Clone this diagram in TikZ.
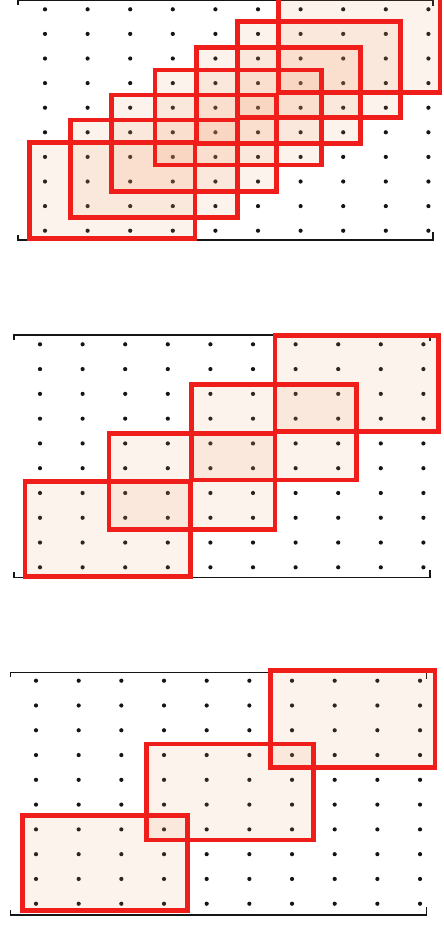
\documentclass[tikz,border=0pt]{standalone}
\usepackage{tikz}
\definecolor{winred}{HTML}{F01E1A}
\definecolor{winfill}{HTML}{EE9A68}
\definecolor{gridink}{HTML}{151515}
% windows: left/right/top/bottom, in pixels of the page (y downwards)
\newcommand{\winsone}{29.5/195/142.7/238.7, 70.7/237.3/120/217.3, 111.7/276.7/95/191.7,
  155/321.7/70/165, 196.7/360.7/47.3/143.3, 237.3/400.7/21.7/117.3, 278.3/440/-4/92.7}
\newcommand{\winstwo}{25/190.7/481.7/576.7, 109/275/433.3/529.3,
  191.7/356.7/384.3/480, 275/438.3/335.7/431.7}
\newcommand{\winsthree}{22.3/187.7/815.7/910.7, 146.7/313.3/744/840, 270.7/435/670.7/767.3}

\begin{document}
\begin{tikzpicture}[x=0.2mm,y=-0.2mm,
  winbox/.style={draw=winred,line width=2.7pt,line join=miter},
  winshade/.style={fill=winfill,fill opacity=0.12},
  frameline/.style={draw=gridink,line width=0.8pt},
  gdot/.style={fill=gridink}]
\useasboundingbox (0,0) rectangle (443,926);

% panel 1, stride 1
\draw[frameline] (18,5) -- (18,0.6) -- (433,0.6) -- (433,6);
\draw[frameline] (18,235) -- (18,240) -- (433,240) -- (433,232);
\foreach \c in {0,...,9}
  \foreach \r in {0,...,9}
    \fill[gdot] (45+42.6*\c,9.3+24.6*\r) circle[radius=0.42mm];
\foreach \l/\rr/\t/\b in \winsone
  \path[winshade] (\l,\t) rectangle (\rr,\b);
\foreach \l/\rr/\t/\b in \winsone
  \draw[winbox] (\l,\t) rectangle (\rr,\b);

% panel 2, stride 2
\draw[frameline] (14,340) -- (14,335) -- (430,335) -- (430,341);
\draw[frameline] (14,572) -- (14,577.3) -- (430,577.3) -- (430,570);
\foreach \c in {0,...,9}
  \foreach \r in {0,...,9}
    \fill[gdot] (40+42.6*\c,344.3+24.78*\r) circle[radius=0.42mm];
\foreach \l/\rr/\t/\b in \winstwo
  \path[winshade] (\l,\t) rectangle (\rr,\b);
\foreach \l/\rr/\t/\b in \winstwo
  \draw[winbox] (\l,\t) rectangle (\rr,\b);

% panel 3, stride 3
\draw[frameline] (10.7,677) -- (10.7,672.3) -- (426.7,672.3) -- (426.7,679);
\draw[frameline] (10.7,910) -- (10.7,915) -- (426.7,915) -- (426.7,907);
\foreach \c in {0,...,9}
  \foreach \r in {0,...,9}
    \fill[gdot] (36+42.67*\c,680.7+24.78*\r) circle[radius=0.42mm];
\foreach \l/\rr/\t/\b in \winsthree
  \path[winshade] (\l,\t) rectangle (\rr,\b);
\foreach \l/\rr/\t/\b in \winsthree
  \draw[winbox] (\l,\t) rectangle (\rr,\b);
\end{tikzpicture}
\end{document}
